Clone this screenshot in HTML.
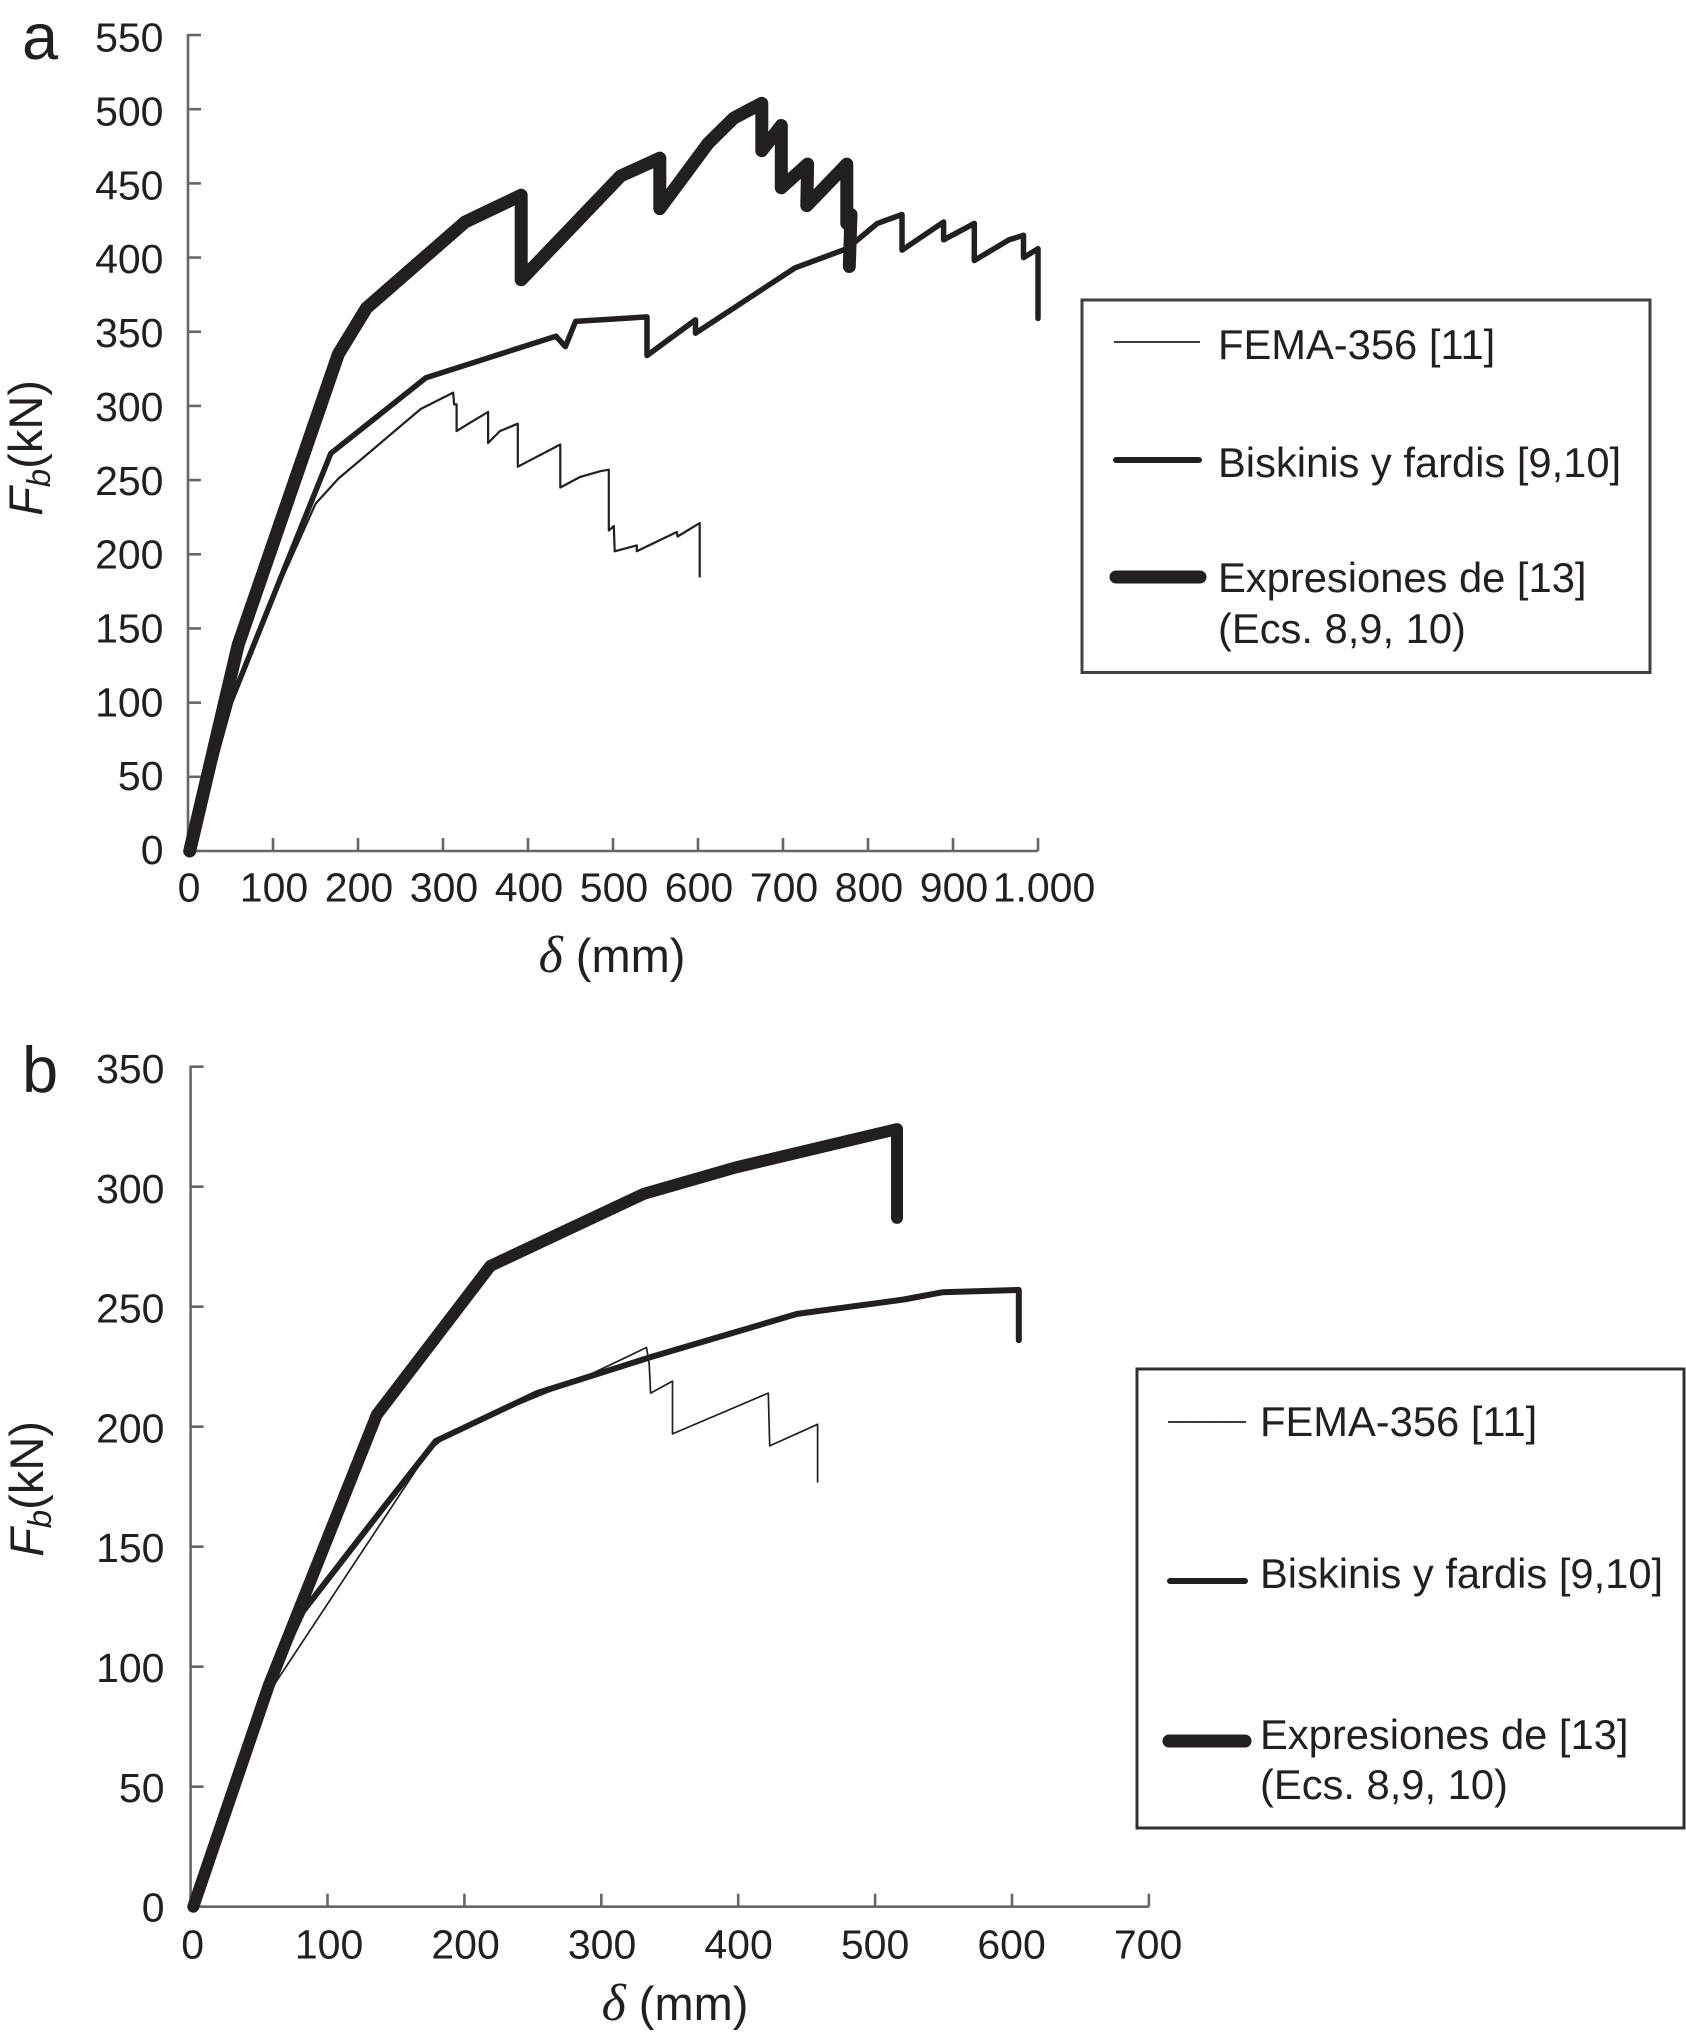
<!DOCTYPE html>
<html lang="es">
<head>
<meta charset="utf-8">
<title>Curvas de capacidad Fb vs desplazamiento</title>
<style>
html,body{margin:0;padding:0;background:#fff;}
svg{display:block;}
text{font-family:"Liberation Sans",sans-serif;fill:#231f20;}
.tick{font-size:41px;}
.leg{font-size:41.7px;}
.panel{font-size:65px;}
.ttl{font-size:47px;}
.sym{font-family:"Liberation Serif",serif;font-style:italic;font-size:52px;}
</style>
</head>
<body>
<svg id="figure" xmlns="http://www.w3.org/2000/svg" width="1686" height="2035" viewBox="0 0 1686 2035">
  <rect x="0" y="0" width="1686" height="2035" fill="#fff"/>

  <g id="chart-a">
    <text class="panel" x="22" y="59">a</text>
    <text class="ttl" transform="translate(42 448) rotate(-90)" text-anchor="middle"><tspan font-style="italic">F</tspan><tspan font-style="italic" font-size="33" dy="8">b</tspan><tspan dy="-8">(kN)</tspan></text>
    <text class="ttl" x="612" y="972" text-anchor="middle"><tspan class="sym">δ</tspan> (mm)</text>
    <g>
      <rect x="1082" y="300" width="568" height="372.5" fill="#fff" stroke="#404040" stroke-width="3"/>
      <line x1="1114" y1="342" x2="1200" y2="342" stroke="#231f20" stroke-width="1.7"/>
      <text class="leg" x="1218" y="359">FEMA-356 [11]</text>
      <line x1="1116" y1="460" x2="1199" y2="460" stroke="#231f20" stroke-width="6" stroke-linecap="round"/>
      <text class="leg" x="1218" y="477">Biskinis y fardis [9,10]</text>
      <line x1="1116" y1="577" x2="1200" y2="577" stroke="#231f20" stroke-width="13" stroke-linecap="round"/>
      <text class="leg" x="1218" y="592">Expresiones de [13]</text>
      <text class="leg" x="1218" y="643">(Ecs. 8,9, 10)</text>
    </g>
  </g>

  <g id="chart-b">
    <text class="panel" x="22" y="1092">b</text>
    <text class="ttl" transform="translate(43 1489) rotate(-90)" text-anchor="middle"><tspan font-style="italic">F</tspan><tspan font-style="italic" font-size="33" dy="8">b</tspan><tspan dy="-8">(kN)</tspan></text>
    <text class="ttl" x="675" y="2020" text-anchor="middle"><tspan class="sym">δ</tspan> (mm)</text>
    <g>
      <rect x="1137" y="1369" width="547" height="459" fill="#fff" stroke="#303030" stroke-width="3"/>
      <line x1="1168" y1="1422" x2="1246" y2="1422" stroke="#231f20" stroke-width="1.7"/>
      <text class="leg" x="1260" y="1436">FEMA-356 [11]</text>
      <line x1="1170" y1="1581" x2="1245" y2="1581" stroke="#231f20" stroke-width="6" stroke-linecap="round"/>
      <text class="leg" x="1260" y="1588">Biskinis y fardis [9,10]</text>
      <line x1="1169" y1="1741" x2="1245" y2="1741" stroke="#231f20" stroke-width="13" stroke-linecap="round"/>
      <text class="leg" x="1260" y="1749">Expresiones de [13]</text>
      <text class="leg" x="1260" y="1799">(Ecs. 8,9, 10)</text>
    </g>
  </g>
</svg>
<script>
// Chart a data
const aXTicks = [0,100,200,300,400,500,600,700,800,900,1000];
const aXLabels = ["0","100","200","300","400","500","600","700","800","900","1.000"];
const aYTicks = [0,50,100,150,200,250,300,350,400,450,500,550];
const aThinX = [2,50,100,150,177,274,312,313,316,316,330,353,353,367,388,388,438,438,461,485,495,495,501,502,528,528,575,576,602,602];
const aThinY = [0,100,170,234,251,298,309,301,301,283,288,296,275,283,288,259,274,245,252,256,257,216,219,202,206,202,215,212,221,185];
const aMidX = [2,50,168,280,433,444,456,540,540,597,597,714,775,811,840,840,889,889,925,925,966,983,983,1000,1000];
const aMidY = [0,100,268,319,347,340,357,360,334,358,349,393,406,423,429,405,424,412,423,398,412,415,400,406,359];
const aThickX = [2,59,177,210,326,392,392,509,555,555,612,642,675,675,698,698,729,728,775,775,780,778];
const aThickY = [0,139,335,366,424,442,385,455,467,433,477,494,504,472,489,447,463,435,463,423,429,394];

// Chart b data
const bXTicks = [0,100,200,300,400,500,600,700];
const bXLabels = ["0","100","200","300","400","500","600","700"];
const bYTicks = [0,50,100,150,200,250,300,350];
const bThinX = [2,57,174,191,289,333,335,336,352,352,422,423,458,458];
const bThinY = [0,89,190,198,221,233,226,214,219,197,214,192,201,177];
const bMidX = [2,57,82,135,179,253,336,443,521,549,605,605];
const bMidY = [0,92,123,162,194,214,229,247,253,256,257,236];
const bThickX = [2,57,136,219,331,398,516,516];
const bThickY = [0,92,205,267,297,308,324,287];

const NS = "http://www.w3.org/2000/svg";

// Axis functions
function aX(v){ return 188 + v * 0.85; }
function aY(v){ return 851 - v * 1.4836; }
function aYLabel(v){ return 864 - v * 1.477; }
function bX(v){ return 190.6 + v * 1.369; }
function bY(v){ return 1906.7 - v * 2.4; }
function bYLabel(v){ return 1921.6 - v * 2.396; }

function poly(xs, ys, fx, fy){
  return xs.map(function(x, i){ return fx(x).toFixed(1) + "," + fy(ys[i]).toFixed(1); }).join(" ");
}

function drawAxes(parent, cfg){
  const xAxis = document.createElementNS(NS, "line");
  
  
  xAxis.setAttribute("x1", cfg.fx(cfg.xTicks[0]));
  xAxis.setAttribute("x2", cfg.fx(cfg.xTicks[cfg.xTicks.length - 1]));
  xAxis.setAttribute("y1", cfg.fy(0));
  xAxis.setAttribute("y2", cfg.fy(0));
  xAxis.setAttribute("stroke", "#666");
  xAxis.setAttribute("stroke-width", "2.6");
  parent.appendChild(xAxis);

  const yAxis = document.createElementNS(NS, "line");
  
  
  yAxis.setAttribute("x1", cfg.fx(0));
  yAxis.setAttribute("x2", cfg.fx(0));
  yAxis.setAttribute("y1", cfg.fy(0));
  yAxis.setAttribute("y2", cfg.fy(cfg.yTicks[cfg.yTicks.length - 1]) - 1);
  yAxis.setAttribute("stroke", "#666");
  yAxis.setAttribute("stroke-width", "2.6");
  parent.appendChild(yAxis);

  cfg.xTicks.forEach(function(v, i){
    const t = document.createElementNS(NS, "line");
    
    
    t.setAttribute("x1", cfg.fx(v));
    t.setAttribute("x2", cfg.fx(v));
    t.setAttribute("y1", cfg.fy(0));
    t.setAttribute("y2", cfg.fy(0) - 13);
    t.setAttribute("stroke", "#666");
    t.setAttribute("stroke-width", "2.6");
    parent.appendChild(t);

    const l = document.createElementNS(NS, "text");
    
    
    l.setAttribute("class", "tick");
    l.setAttribute("x", cfg.fx(v) + cfg.xLabelDx(v));
    l.setAttribute("y", cfg.xLabelY);
    l.setAttribute("text-anchor", "middle");
    l.textContent = cfg.xLabels[i];
    parent.appendChild(l);
  });

  cfg.yTicks.forEach(function(v){
    const t = document.createElementNS(NS, "line");
    
    
    t.setAttribute("x1", cfg.fx(0));
    t.setAttribute("x2", cfg.fx(0) + 13);
    t.setAttribute("y1", cfg.fy(v));
    t.setAttribute("y2", cfg.fy(v));
    t.setAttribute("stroke", "#666");
    t.setAttribute("stroke-width", "2.6");
    parent.appendChild(t);

    const l = document.createElementNS(NS, "text");
    
    
    l.setAttribute("class", "tick");
    l.setAttribute("x", cfg.yLabelX);
    l.setAttribute("y", cfg.fyLabel(v));
    l.setAttribute("text-anchor", "end");
    l.textContent = String(v);
    parent.appendChild(l);
  });
}

function drawSeries(parent, xs, ys, fx, fy, width, name){
  const p = document.createElementNS(NS, "polyline");
  
  
  p.setAttribute("points", poly(xs, ys, fx, fy));
  p.setAttribute("fill", "none");
  p.setAttribute("stroke", "#231f20");
  p.setAttribute("stroke-width", width);
  p.setAttribute("stroke-linejoin", "round");
  p.setAttribute("stroke-linecap", "round");
  parent.appendChild(p);
}

const gA = document.getElementById("chart-a");
const gB = document.getElementById("chart-b");

drawAxes(gA, {fx:aX, fy:aY, fyLabel:aYLabel, xTicks:aXTicks, xLabels:aXLabels, yTicks:aYTicks,
  xLabelY:901.5, yLabelX:163.5, xLabelDx:function(v){ return v === 1000 ? 6 : 1; }});
drawSeries(gA, aThinX, aThinY, aX, aY, 2.2, "series-fema-356-a");
drawSeries(gA, aMidX, aMidY, aX, aY, 5.5, "series-biskinis-fardis-a");
drawSeries(gA, aThickX, aThickY, aX, aY, 13, "series-expresiones-a");

drawAxes(gB, {fx:bX, fy:bY, fyLabel:bYLabel, xTicks:bXTicks, xLabels:bXLabels, yTicks:bYTicks,
  xLabelY:1958.5, yLabelX:164.5, xLabelDx:function(v){ return 2 - v * 0.004; }});
drawSeries(gB, bThinX, bThinY, bX, bY, 1.7, "series-fema-356-b");
drawSeries(gB, bMidX, bMidY, bX, bY, 6, "series-biskinis-fardis-b");
drawSeries(gB, bThickX, bThickY, bX, bY, 12, "series-expresiones-b");
</script>
</body>
</html>
